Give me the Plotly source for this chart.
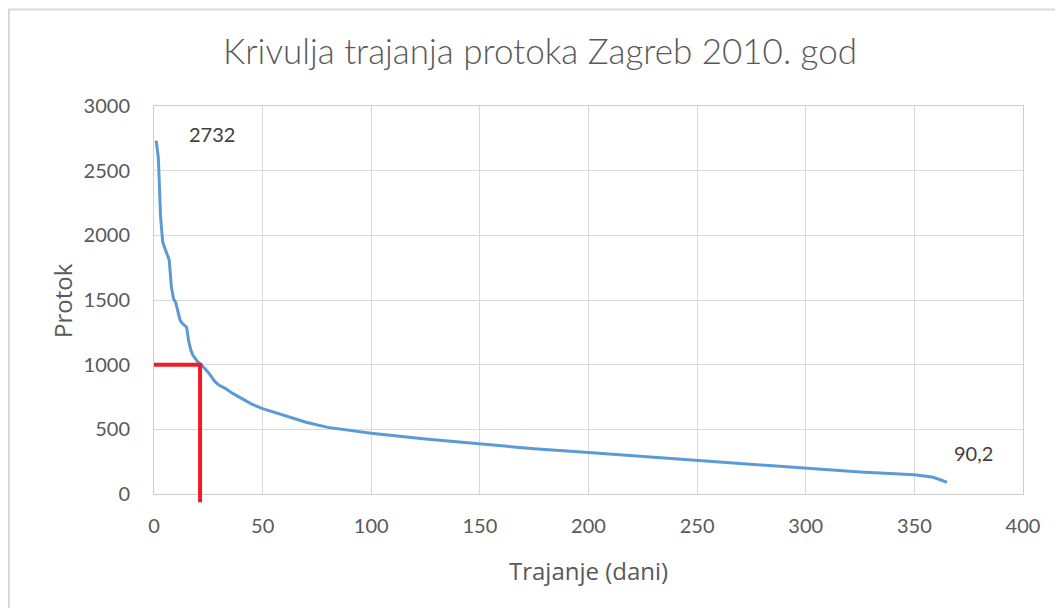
import plotly.graph_objects as go

# Krivulja trajanja protoka
dani = [1, 2, 3, 4, 5, 6, 7, 8, 9, 10, 11, 12, 13, 14, 15, 16, 17, 18, 19, 20,
        21, 22, 25, 28, 30, 33, 36, 40, 45, 50, 60, 70, 80, 100, 125, 150, 175,
        200, 225, 250, 275, 300, 325, 350, 355, 358, 362, 365]
protok = [2732, 2600, 2150, 1950, 1900, 1850, 1810, 1600, 1510, 1480, 1400, 1345,
          1320, 1305, 1290, 1180, 1110, 1070, 1045, 1025, 1010, 995, 940, 870, 840,
          815, 780, 740, 695, 660, 610, 555, 515, 470, 425, 385, 350, 320, 290,
          258, 225, 195, 170, 148, 140, 132, 110, 90.2]

granica_protok = 1000
granica_dani = 21.2

siva = "#595959"
mreza = "#d9d9d9"

fig = go.Figure()
fig.add_trace(go.Scatter(x=dani, y=protok, mode="lines",
                         line=dict(color="#5B9BD5", width=3), showlegend=False))

# red marker lines at Q = 1000
fig.add_shape(type="line", xref="x", yref="y", x0=0, x1=granica_dani + 1,
              y0=granica_protok, y1=granica_protok,
              line=dict(color="#EE1C25", width=4))
fig.add_shape(type="line", xref="x", yref="paper", x0=granica_dani, x1=granica_dani,
              y0=-0.021, y1=(granica_protok / 3000),
              line=dict(color="#EE1C25", width=4))

# outer chart frame
fig.add_shape(type="rect", xref="paper", yref="paper", x0=-0.1669, x1=1.5,
              y0=-1, y1=1.249, line=dict(color=mreza, width=2), layer="below")

fig.add_annotation(x=26.5, y=2782, text="2732", showarrow=False,
                   font=dict(family="Lato", size=20, color="#404040"))
fig.add_annotation(x=377, y=317, text="90,2", showarrow=False,
                   font=dict(family="Lato", size=20, color="#404040"))

fig.add_annotation(xref="paper", yref="paper", x=0.5, y=-0.196, text="Trajanje (dani)",
                   showarrow=False, yanchor="middle",
                   font=dict(family="Open Sans", size=24, color=siva))
fig.add_annotation(xref="paper", yref="paper", x=-0.106, y=0.5, text="Protok",
                   showarrow=False, textangle=-90, xanchor="center",
                   font=dict(family="Open Sans", size=24, color=siva))

fig.update_layout(
    width=1063, height=608,
    margin=dict(l=146, r=48, t=98, b=122),
    paper_bgcolor="white", plot_bgcolor="white",
    title=dict(text="Krivulja trajanja protoka Zagreb 2010. god",
               x=0.5005, xref="container", y=0.9276, yref="container",
               xanchor="center", yanchor="middle",
               font=dict(family="Lato", size=35, color=siva, weight=300)),
    font=dict(family="Lato", size=20, color=siva),
)
fig.update_xaxes(range=[0, 400], dtick=50, showgrid=True, gridcolor=mreza,
                 showline=True, linecolor="#cfcfcf", mirror=True, zeroline=False,
                 ticks="", ticklabelstandoff=14,
                 tickfont=dict(family="Lato", size=20, color=siva))
fig.update_yaxes(range=[0, 3000], dtick=500, showgrid=True, gridcolor=mreza,
                 showline=True, linecolor="#cfcfcf", mirror=True, zeroline=False,
                 ticks="", ticklabelstandoff=19,
                 tickfont=dict(family="Lato", size=20, color=siva))

fig.write_html("out.html")
